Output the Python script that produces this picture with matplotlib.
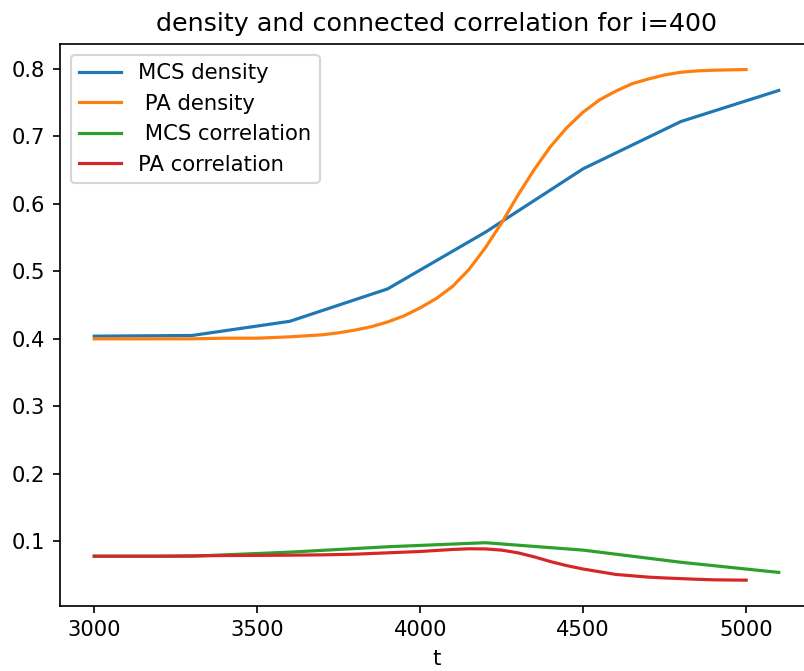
import matplotlib
matplotlib.use('Agg')
import matplotlib.pyplot as plt

# MCS results (every 300 steps)
t_mcs = [3000, 3300, 3600, 3900, 4200, 4500, 4800, 5100]
mcs_density = [0.404, 0.405, 0.426, 0.474, 0.558, 0.652, 0.722, 0.768]
mcs_corr = [0.078, 0.078, 0.084, 0.092, 0.098, 0.087, 0.069, 0.054]

# PA results
t_pa = [3000, 3100, 3200, 3300, 3400, 3500, 3600, 3700, 3750, 3800, 3850, 3900,
        3950, 4000, 4050, 4100, 4150, 4200, 4250, 4300, 4350, 4400, 4450, 4500,
        4550, 4600, 4650, 4700, 4750, 4800, 4850, 4900, 5000]
pa_density = [0.400, 0.400, 0.400, 0.400, 0.401, 0.401, 0.403, 0.406, 0.409, 0.413,
              0.418, 0.425, 0.434, 0.446, 0.460, 0.478, 0.503, 0.535, 0.572, 0.613,
              0.651, 0.685, 0.713, 0.736, 0.754, 0.767, 0.778, 0.785, 0.791, 0.795,
              0.797, 0.798, 0.799]
pa_corr = [0.078, 0.078, 0.078, 0.0785, 0.079, 0.0792, 0.0795, 0.080, 0.0805, 0.081,
           0.082, 0.083, 0.084, 0.085, 0.0865, 0.088, 0.089, 0.0888, 0.087, 0.083,
           0.077, 0.070, 0.064, 0.059, 0.055, 0.051, 0.049, 0.047, 0.0458, 0.0448,
           0.0438, 0.043, 0.0425]

fig = plt.figure(figsize=(804 / 152, 671 / 152), dpi=152)
# axes right edge runs past the picture, as in the cropped original
ax = fig.add_axes([60 / 804, (671 - 605.7) / 671, 753 / 804, 561.7 / 671])

ax.plot(t_mcs, mcs_density, label='MCS density')
ax.plot(t_pa, pa_density, label=' PA density')
ax.plot(t_mcs, mcs_corr, label=' MCS correlation')
ax.plot(t_pa, pa_corr, label='PA correlation')

ax.set_xticks([3000, 3500, 4000, 4500, 5000])
ax.set_xlabel('t')
ax.set_title('density and connected correlation for i=400')
ax.legend(loc='upper left')

fig.savefig('out.png', dpi=152)
